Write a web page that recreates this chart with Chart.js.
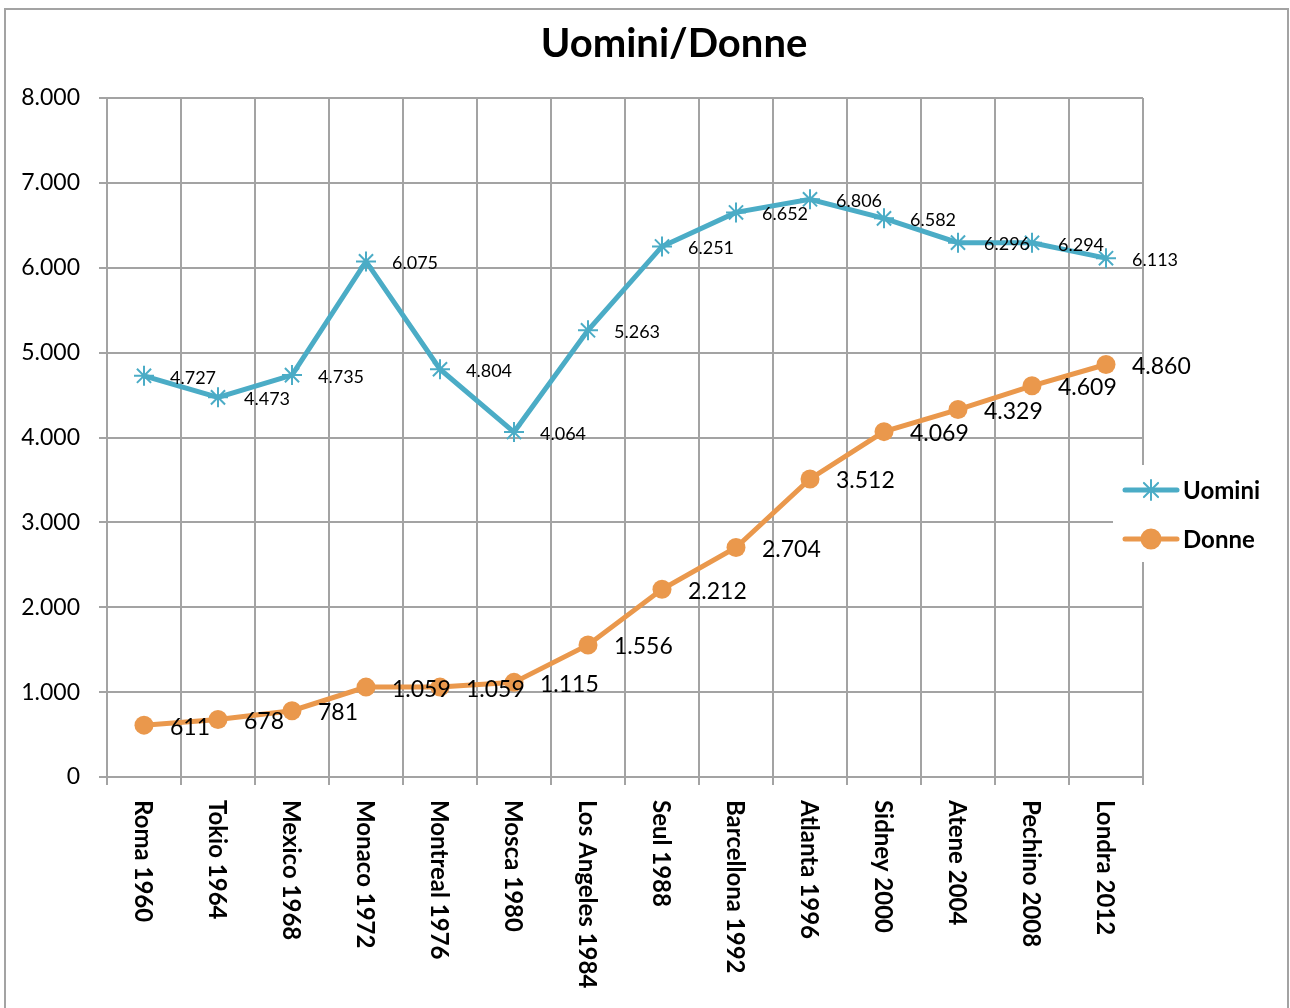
<!DOCTYPE html>
<html><head><meta charset="utf-8">
<script src="https://cdn.jsdelivr.net/npm/chart.js@4.4.0/dist/chart.umd.min.js"></script>
<style>
html,body{margin:0;padding:0;background:#fff;overflow:hidden;}
#wrap{position:relative;width:1290px;height:1008px;}
#frame{position:absolute;left:4px;top:8px;width:1285px;height:1012px;border:2px solid #a3a3a3;box-sizing:border-box;pointer-events:none;}
canvas{position:absolute;left:0;top:0;}
</style></head><body>
<div id="wrap"><canvas id="c" width="1290" height="1008"></canvas><div id="frame"></div></div>
<script>
const categories = ["Roma 1960","Tokio 1964","Mexico 1968","Monaco 1972","Montreal 1976","Mosca 1980","Los Angeles 1984","Seul 1988","Barcellona 1992","Atlanta 1996","Sidney 2000","Atene 2004","Pechino 2008","Londra 2012"];
const uomini = [4727,4473,4735,6075,4804,4064,5263,6251,6652,6806,6582,6296,6294,6113];
const donne  = [611,678,781,1059,1059,1115,1556,2212,2704,3512,4069,4329,4609,4860];
const seriesNames = ["Uomini","Donne"];
const chartTitle = "Uomini/Donne";
const yMin = 0, yMax = 8000, yStep = 1000;

const TEAL = '#4bacc6', ORANGE = '#ea984c', GRID = '#a3a3a3';
const FONT = 'Lato, "Open Sans", sans-serif';

function fmt(n){ return String(Math.round(n)).replace(/\B(?=(\d{3})+(?!\d))/g,'.'); }

const labelFonts = ['18px '+FONT, '23px '+FONT];

const pointLabelPlugin = {
  id:'pointLabelPlugin',
  afterDatasetsDraw(chart){
    const ctx = chart.ctx;
    chart.data.datasets.forEach((ds,di)=>{
      const meta = chart.getDatasetMeta(di);
      ctx.save();
      ctx.font = labelFonts[di];
      ctx.fillStyle = '#000';
      ctx.textAlign = 'left';
      ctx.textBaseline = 'middle';
      meta.data.forEach((pt,i)=>{
        ctx.fillText(fmt(ds.data[i]), pt.x + 26, pt.y + 2);
      });
      ctx.restore();
    });
  }
};

const xLabelPlugin = {
  id:'xLabelPlugin',
  afterDraw(chart){
    const ctx = chart.ctx, xs = chart.scales.x;
    ctx.save();
    ctx.font = 'bold 24px '+FONT;
    ctx.fillStyle = '#000';
    ctx.textAlign = 'left';
    ctx.textBaseline = 'middle';
    categories.forEach((c,i)=>{
      const x = xs.getPixelForValue(i);
      ctx.save();
      ctx.translate(x - 1, chart.chartArea.bottom + 23);
      ctx.rotate(Math.PI/2);
      ctx.fillText(c, 0, 0);
      ctx.restore();
    });
    ctx.restore();
  }
};

const titlePlugin = {
  id:'titlePlugin',
  afterDraw(chart){
    const ctx = chart.ctx;
    ctx.save();
    ctx.font = 'bold 40px '+FONT;
    ctx.fillStyle = '#000';
    ctx.textAlign = 'center';
    ctx.textBaseline = 'alphabetic';
    ctx.fillText(chartTitle, 674, 57);
    ctx.restore();
  }
};

const legendPlugin = {
  id:'legendPlugin',
  afterDraw(chart){
    const ctx = chart.ctx;
    ctx.save();
    ctx.fillStyle = '#fff';
    ctx.fillRect(1113, 465, 172, 97);
    const items = [
      {name: seriesNames[0], color: TEAL, style:'star', r:10, y:490},
      {name: seriesNames[1], color: ORANGE, style:'circle', r:9.5, y:539}
    ];
    items.forEach(it=>{
      ctx.strokeStyle = it.color;
      ctx.lineWidth = 5;
      ctx.lineCap = 'round';
      ctx.beginPath();
      ctx.moveTo(1125, it.y); ctx.lineTo(1177, it.y);
      ctx.stroke();
      ctx.fillStyle = it.color;
      ctx.lineWidth = 2;
      Chart.helpers.drawPoint(ctx, {pointStyle: it.style, radius: it.r, rotation: 0, borderWidth: 2}, 1151, it.y);
      ctx.fillStyle = '#000';
      ctx.font = 'bold 24px '+FONT;
      ctx.textAlign = 'left';
      ctx.textBaseline = 'middle';
      ctx.fillText(it.name, 1183, it.y + 1);
    });
    ctx.restore();
  }
};

new Chart(document.getElementById('c'), {
  type:'line',
  data:{
    labels: categories,
    datasets:[
      {label: seriesNames[0], data: uomini, borderColor: TEAL, backgroundColor: TEAL, borderWidth:5,
       pointStyle:'star', pointRadius:10, pointBorderWidth:2, pointBorderColor: TEAL, tension:0},
      {label: seriesNames[1], data: donne, borderColor: ORANGE, backgroundColor: ORANGE, borderWidth:5,
       pointStyle:'circle', pointRadius:9.5, pointBorderWidth:0, pointBackgroundColor: ORANGE, tension:0}
    ]
  },
  options:{
    responsive:false,
    animation:false,
    devicePixelRatio:1,
    layout:{padding:{top:98, right:147, left:0, bottom:0}},
    plugins:{legend:{display:false}, title:{display:false}, tooltip:{enabled:false}},
    scales:{
      x:{
        offset:true,
        grid:{color:GRID, lineWidth:2, offset:true, drawTicks:true, tickLength:8},
        border:{color:GRID, width:2},
        ticks:{display:false},
        afterFit(s){ s.height = 231; }
      },
      y:{
        min:yMin, max:yMax,
        grid:{color:GRID, lineWidth:2, drawTicks:true, tickLength:8},
        border:{color:GRID, width:2},
        ticks:{stepSize:yStep, padding:19, color:'#000', font:{family:FONT, size:23}, callback:(v)=>fmt(v)},
        afterFit(s){ s.width = 107; }
      }
    }
  },
  plugins:[pointLabelPlugin, xLabelPlugin, titlePlugin, legendPlugin]
});
</script>
</body></html>
